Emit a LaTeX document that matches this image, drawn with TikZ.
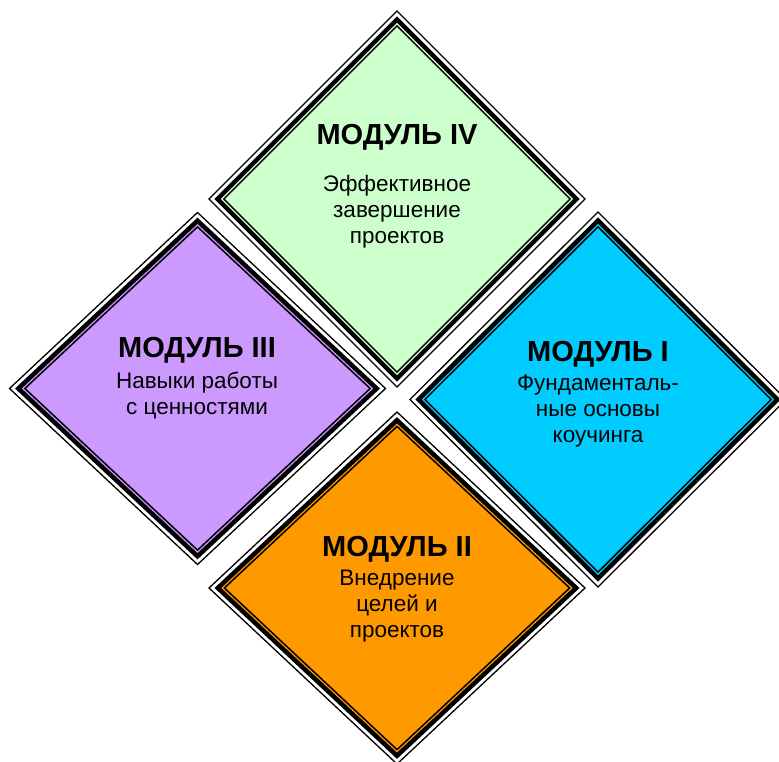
\documentclass[tikz,border=0pt]{standalone}
\usepackage{fontspec}
\setmainfont{Liberation Sans}
\usetikzlibrary{shapes.geometric}
\definecolor{cIV}{HTML}{CCFFCC}
\definecolor{cIII}{HTML}{CC99FF}
\definecolor{cI}{HTML}{00CCFF}
\definecolor{cII}{HTML}{FF9900}
\tikzset{
  dshape/.style={diamond, inner sep=0pt, outer sep=0pt},
  dout/.style={dshape, draw=black, line width=1.3pt, fill=white},
  dthick/.style={dshape, draw=black, line width=4.5pt},
  dthin/.style={dshape, draw=black, line width=1.5pt},
  ttl/.style={font=\fontsize{29}{32}\selectfont\bfseries, inner sep=0pt},
  bodytxt/.style={font=\fontsize{22.5}{26}\selectfont, align=center, inner sep=0pt},
}
\newcommand\mymodule[6]{%
  \pgfmathsetmacro\modH{100*(#4/100)*(#5/100)/sqrt((#4/100)^2+(#5/100)^2)}%
  \pgfmathsetmacro\modSa{1-6/\modH}%
  \pgfmathsetmacro\modSb{1-10.5/\modH}%
  \node[dout, minimum width={2*#4pt}, minimum height={2*#5pt}] (#1o) at (#2,#3) {};
  \node[dthick, fill=#6, minimum width={2*#4*\modSa pt}, minimum height={2*#5*\modSa pt}] (#1k) at (#2,#3) {};
  \node[dthin, minimum width={2*#4*\modSb pt}, minimum height={2*#5*\modSb pt}] (#1i) at (#2,#3) {};
}
\begin{document}
\begin{tikzpicture}[x=1pt,y=-1pt]
\useasboundingbox (0,0) rectangle (779,762);
\mymodule{mIV}{397}{199}{188}{188}{cIV}
\mymodule{mIII}{197.5}{388.5}{188}{176}{cIII}
\mymodule{mI}{598}{399.5}{188}{187.5}{cI}
\mymodule{mII}{397}{588}{188}{176}{cII}
% texts
\node[ttl] (tIV) at (397,137) {МОДУЛЬ IV};
\node[bodytxt] (bIV) at (397,211.5) {Эффективное\\завершение\\проектов};
\node[ttl] (tIII) at (197,350) {МОДУЛЬ III};
\node[bodytxt] (bIII) at (197,395.5) {Навыки работы\\с ценностями};
\node[ttl] (tI) at (598,354) {МОДУЛЬ I};
\node[bodytxt] (bI) at (598,411.5) {Фундаменталь-\\ные основы\\коучинга};
\node[ttl] (tII) at (397,549) {МОДУЛЬ II};
\node[bodytxt] (bII) at (397,606.5) {Внедрение\\целей и\\проектов};
\end{tikzpicture}
\end{document}
